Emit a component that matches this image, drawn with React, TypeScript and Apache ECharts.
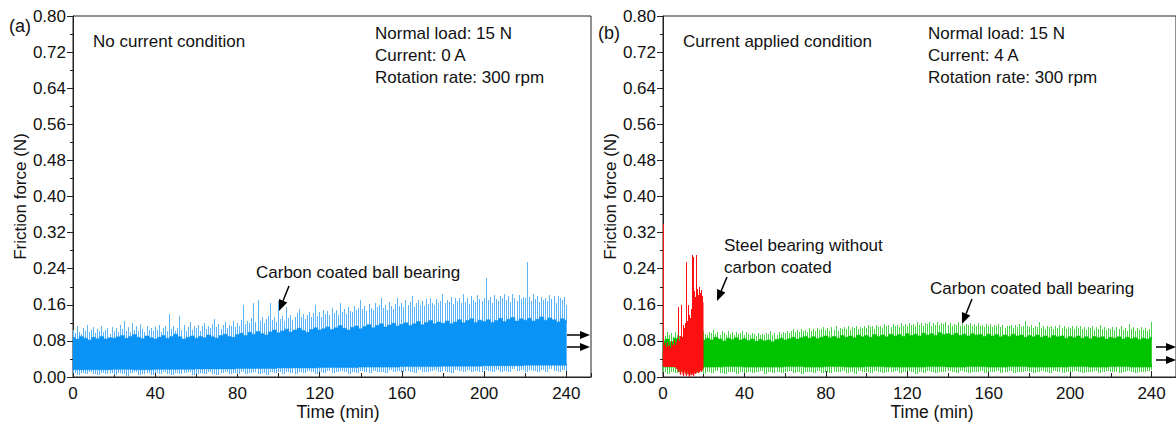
import React, { useEffect, useRef } from "react";
import * as echarts from "echarts";

// ---------- data (friction force in thousandths of N) ----------
const X_TICKS = [0, 40, 80, 120, 160, 200, 240];
const Y_TICK_STEP = 0.08;

// (a) carbon coated ball bearing, no current: dense core top, 2-min step (t = 0..240)
const BLUE_CORE_TOP = [
  88, 84, 90, 86, 82, 88, 85, 90, 84, 87, 86,
  89, 92, 86, 90, 94, 88, 85, 91, 87, 84,
  88, 92, 86, 90, 95, 89, 84, 88, 91, 86,
  90, 87, 93, 89, 86, 92, 95, 90, 88, 94,
  97, 92, 99, 95, 101, 96, 93, 100, 104, 98,
  102, 106, 100, 104, 108, 103, 99, 105, 109, 104,
  107, 111, 105, 109, 114, 108, 104, 110, 113, 107,
  112, 116, 109, 114, 118, 111, 115, 119, 113, 117,
  120, 114, 118, 123, 116, 121, 125, 118, 122, 119,
  124, 118, 122, 127, 120, 125, 129, 121, 126, 123,
  127, 121, 125, 130, 123, 128, 132, 124, 129, 126,
  130, 124, 128, 133, 126, 131, 127, 122, 129, 125,
];
// dense core bottom, 10-min step
const BLUE_CORE_LOW = [16, 16, 17, 16, 17, 17, 18, 18, 19, 19, 20, 20, 21, 21, 22, 22, 23, 23, 24, 24, 25, 25, 26, 26, 26];
// spike maxima, 1-min step
const BLUE_PEAK = [
  105, 98, 112, 100, 95, 108, 102, 115, 99, 104,
  110, 97, 106, 101, 113, 99, 104, 108, 96, 111,
  103, 109, 100, 115, 106, 125, 102, 110, 99, 120,
  104, 112, 101, 118, 107, 99, 113, 105, 109, 102,
  111, 104, 116, 100, 108, 113, 103, 140, 106, 112,
  101, 109, 135, 104, 115, 102, 110, 121, 105, 113,
  108, 116, 103, 112, 119, 106, 114, 109, 117, 128,
  111, 118, 106, 115, 121, 109, 116, 112, 124, 110,
  119, 113, 126, 160, 117, 125, 120, 131, 165, 122,
  170, 124, 132, 119, 128, 135, 165, 126, 133, 121,
  168, 129, 136, 124, 155, 131, 138, 127, 134, 142,
  150, 132, 140, 128, 137, 145, 133, 141, 160, 136,
  143, 134, 148, 139, 146, 137, 152, 141, 149, 138,
  165, 144, 151, 140, 156, 147, 143, 158, 149, 154,
  170, 150, 157, 146, 161, 152, 148, 163, 155, 159,
  175, 153, 160, 149, 166, 157, 151, 162, 175, 158,
  164, 155, 170, 159, 167, 180, 156, 163, 171, 160,
  168, 158, 173, 162, 176, 165, 160, 172, 164, 169,
  185, 163, 171, 166, 178, 161, 174, 168, 176, 165,
  185, 167, 175, 162, 179, 170, 166, 181, 172, 168,
  176, 220, 171, 178, 165, 182, 173, 169, 180, 174,
  185, 170, 179, 166, 183, 175, 168, 181, 172, 178,
  174, 255, 177, 169, 185, 173, 180, 167, 178, 171,
  176, 168, 182, 172, 179, 165, 180, 174, 170, 177,
  160,
];
// spike minima, 2-min step
const BLUE_DIP = [
  8, 5, 9, 6, 10, 7, 4, 9, 6, 8, 5,
  9, 6, 3, 8, 10, 5, 7, 9, 4, 8,
  6, 10, 7, 4, 9, 6, 8, 11, 5, 7,
  9, 6, 10, 7, 4, 8, 11, 6, 9, 7,
  10, 6, 8, 12, 7, 9, 5, 11, 8, 10,
  7, 12, 9, 6, 11, 8, 13, 10, 7, 12,
  9, 13, 8, 11, 14, 10, 7, 12, 9, 13,
  11, 8, 14, 10, 12, 9, 15, 11, 13, 10,
  14, 11, 9, 15, 12, 10, 13, 16, 11, 14,
  12, 9, 15, 13, 10, 16, 12, 14, 11, 15,
  13, 10, 16, 12, 14, 11, 17, 13, 15, 12,
  16, 13, 11, 15, 12, 17, 14, 12, 16, 13,
];

// (b) carbon coated ball bearing, current applied (green)
const GREEN_CORE_TOP = [
  80, 84, 78, 86, 82, 88, 83, 87, 80, 85, 82,
  86, 82, 88, 84, 80, 86, 83, 87, 82, 85,
  81, 84, 79, 83, 80, 82, 78, 83, 86, 82,
  85, 88, 84, 87, 90, 86, 89, 85, 88, 91,
  87, 90, 86, 92, 88, 91, 87, 93, 89, 92,
  88, 94, 90, 93, 89, 95, 91, 94, 90, 96,
  92, 95, 91, 97, 93, 96, 92, 98, 94, 96,
  93, 97, 92, 95, 91, 96, 93, 94, 90, 95,
  91, 94, 89, 93, 90, 95, 91, 93, 88, 92,
  89, 93, 88, 91, 87, 92, 89, 91, 86, 90,
  87, 91, 86, 89, 85, 90, 87, 89, 84, 88,
  86, 89, 84, 88, 85, 87, 83, 86, 84, 88,
];
const GREEN_CORE_LOW = [22, 21, 22, 23, 22, 22, 23, 22, 23, 22, 23, 22, 22, 23, 22, 23, 22, 23, 22, 22, 23, 22, 23, 22, 22];
const GREEN_PEAK = [
  95, 90, 99, 92, 97, 89, 100, 94, 91, 98,
  93, 99, 90, 96, 101, 92, 97, 94, 100, 95,
  102, 96, 93, 100, 97, 104, 95, 99, 92, 101,
  97, 94, 103, 96, 99, 93, 100, 95, 98, 102,
  94, 99, 96, 92, 98, 95, 91, 97, 93, 96,
  92, 98, 95, 101, 94, 97, 93, 100, 96, 99,
  98, 103, 97, 101, 106, 99, 104, 100, 107, 102,
  105, 100, 108, 103, 106, 101, 109, 104, 107, 110,
  104, 108, 102, 110, 105, 112, 103, 109, 106, 111,
  107, 113, 105, 110, 108, 114, 106, 111, 109, 112,
  108, 115, 110, 113, 107, 116, 111, 114, 109, 117,
  112, 115, 110, 118, 113, 116, 111, 119, 114, 117,
  113, 120, 115, 118, 112, 121, 116, 119, 114, 120,
  117, 121, 114, 119, 116, 122, 115, 120, 118, 121,
  116, 120, 113, 118, 115, 121, 114, 119, 112, 117,
  115, 119, 112, 117, 114, 120, 113, 116, 111, 118,
  113, 117, 110, 115, 112, 118, 111, 116, 109, 114,
  112, 116, 109, 115, 111, 117, 110, 114, 123, 112,
  111, 115, 108, 114, 110, 121, 109, 113, 107, 112,
  110, 114, 107, 113, 109, 115, 108, 112, 106, 111,
  109, 113, 106, 112, 108, 114, 107, 111, 105, 110,
  108, 112, 105, 111, 107, 116, 106, 110, 104, 109,
  107, 111, 104, 110, 106, 112, 105, 109, 103, 118,
  106, 110, 103, 109, 105, 111, 104, 108, 102, 107,
  122,
];
const GREEN_DIP = [
  10, 7, 12, 8, 11, 9, 6, 12, 8, 10, 7,
  11, 8, 13, 9, 6, 12, 10, 7, 11, 9,
  12, 8, 10, 13, 7, 11, 9, 12, 8, 10,
  13, 9, 11, 7, 12, 10, 8, 13, 9, 11,
  8, 12, 10, 14, 9, 11, 7, 13, 10, 12,
  9, 13, 11, 8, 12, 10, 14, 9, 11, 13,
  10, 7, 12, 9, 13, 11, 8, 12, 10, 14,
  11, 9, 13, 10, 8, 12, 11, 14, 9, 12,
  10, 13, 8, 11, 14, 9, 12, 10, 13, 11,
  9, 12, 14, 10, 8, 13, 11, 9, 12, 10,
  13, 11, 8, 12, 10, 14, 9, 11, 13, 10,
  12, 9, 11, 14, 10, 8, 12, 11, 13, 15,
];

// (b) steel bearing without carbon coating (red), 0.5-min step, t = 0..19.5
const RED_CORE_TOP = [
  58, 55, 60, 56, 59, 57, 61, 56, 58, 60,
  57, 61, 58, 62, 60, 64, 61, 63, 62, 66,
  70, 66, 75, 80, 72, 85, 90, 95, 110, 120,
  130, 140, 135, 145, 150, 140, 160, 150, 155, 165,
];
const RED_CORE_LOW = [24, 23, 21, 19]; // 5-min step
const RED_PEAK = [
  340, 70, 75, 66, 78, 68, 72, 65, 80, 70,
  74, 82, 70, 78, 85, 155, 80, 90, 160, 88,
  115, 108, 120, 255, 125, 160, 138, 130, 150, 270,
  265, 190, 178, 270, 195, 182, 200, 186, 192, 180,
];
const RED_DIP = [
  24, 25, 23, 24, 26, 23, 25, 22, 24, 23,
  25, 22, 24, 18, 23, 10, 22, 5, 20, 14,
  3, 16, 12, 2, 15, 8, 0, 12, 4, 10,
  2, 14, 6, 11, 15, 8, 13, 16, 12, 18,
];

// ---------- helpers ----------
const FONT = "'Liberation Sans', Arial, Helvetica, sans-serif";
const TXT = "#111";
const AX = "#222";

type CoreRow = [number, number, number];
type SpikeRow = [number, number, number, number, number];

function pick(arr: number[], t: number, step: number): number {
  const i = Math.min(Math.max(Math.round(t / step), 0), arr.length - 1);
  return arr[i];
}
function pickBin(arr: number[], t: number, step: number): number {
  const i = Math.min(Math.floor(t / step + 1e-9), arr.length - 1);
  return arr[i];
}

function coreRows(top: number[], low: number[], step: number, lowStep: number): CoreRow[] {
  return top.map((v, i) => {
    const t = i * step;
    return [t, pickBin(low, t, lowStep) / 1000, v / 1000];
  });
}
// [t, dip, coreLow, coreTop, peak]
function spikeRows(
  peak: number[], dip: number[], step: number, dipStep: number,
  top: number[], topStep: number, low: number[], lowStep: number
): SpikeRow[] {
  return peak.map((v, i) => {
    const t = i * step;
    return [
      t,
      pickBin(dip, t, dipStep) / 1000,
      pickBin(low, t, lowStep) / 1000,
      pick(top, t, topStep) / 1000,
      v / 1000,
    ];
  });
}

// dense core drawn as one stepped polygon through the axis scales
function coreSeries(name: string, xi: number, yi: number, rows: CoreRow[], step: number, end: number, color: string, z: number) {
  return {
    name,
    type: "custom",
    xAxisIndex: xi,
    yAxisIndex: yi,
    z,
    silent: true,
    encode: { x: 0, y: [1, 2] },
    data: rows,
    renderItem: (params: any, api: any) => {
      if (params.dataIndex !== 0) return null;
      const topPts: number[][] = [];
      const lowPts: number[][] = [];
      rows.forEach(([t, lo, hi]) => {
        const x0 = Math.max(0, t - step / 2);
        const x1 = Math.min(end, t + step / 2);
        topPts.push(api.coord([x0, hi]), api.coord([x1, hi]));
        lowPts.push(api.coord([x0, lo]), api.coord([x1, lo]));
      });
      return {
        type: "polygon",
        shape: { points: topPts.concat(lowPts.reverse()) },
        style: { fill: color, stroke: color, lineWidth: 0.5 },
      };
    },
  };
}

// thin spikes as zig-zag polylines: core top -> peak, and core low -> dip (pixel-snapped)
function spikeSeries(name: string, xi: number, yi: number, rows: SpikeRow[], color: string, z: number, through = false) {
  return {
    name,
    type: "custom",
    xAxisIndex: xi,
    yAxisIndex: yi,
    z,
    silent: true,
    encode: { x: 0, y: [1, 4] },
    data: rows,
    renderItem: (params: any, api: any) => {
      if (params.dataIndex !== 0) return null;
      const up: number[][] = [];
      const down: number[][] = [];
      const snap = (p: number[]) => [Math.floor(p[0]) + 0.5, Math.round(p[1])];
      rows.forEach(([t, dip, lo, top, peak]) => {
        if (through) {
          const a = snap(api.coord([t, dip]));
          const b = snap(api.coord([t, peak]));
          up.push(a, b, a);
        } else {
          const a = snap(api.coord([t, top - 0.006]));
          const b = snap(api.coord([t, Math.max(peak, top)]));
          up.push(a, b, a);
          const c = snap(api.coord([t, lo + 0.006]));
          const d = snap(api.coord([t, Math.min(dip, lo)]));
          down.push(c, d, c);
        }
      });
      const children: any[] = [
        { type: "polyline", shape: { points: up }, style: { stroke: color, lineWidth: 1, fill: null } },
      ];
      if (down.length) {
        children.push({ type: "polyline", shape: { points: down }, style: { stroke: color, lineWidth: 1, fill: null } });
      }
      return { type: "group", children };
    },
  };
}

function arrow(x1: number, y1: number, x2: number, y2: number, len = 11, half = 4.5): any[] {
  const ang = Math.atan2(y2 - y1, x2 - x1);
  const bx = x2 - len * Math.cos(ang);
  const by = y2 - len * Math.sin(ang);
  const px = -Math.sin(ang) * half;
  const py = Math.cos(ang) * half;
  return [
    { type: "line", silent: true, shape: { x1, y1, x2: bx, y2: by }, style: { stroke: "#000", lineWidth: 1.5 } },
    {
      type: "polygon",
      silent: true,
      shape: { points: [[x2, y2], [bx + px, by + py], [bx - px, by - py]] },
      style: { fill: "#000" },
    },
  ];
}

function label(text: string, x: number, y: number, size = 17, align = "left") {
  return {
    type: "text",
    silent: true,
    x,
    y,
    style: { text, fill: TXT, font: `${size}px ${FONT}`, textAlign: align, textVerticalAlign: "middle" },
  };
}

const X_MAX = 252;

function xMain(grid: number) {
  return {
    type: "value",
    gridIndex: grid,
    min: 0,
    max: X_MAX,
    interval: 40,
    axisLine: { show: true, onZero: false, lineStyle: { color: AX, width: 1 } },
    axisTick: { show: true, inside: true, length: 6, lineStyle: { color: AX, width: 1 } },
    axisLabel: {
      show: true,
      margin: 8,
      color: TXT,
      fontSize: 17,
      fontFamily: FONT,
      showMaxLabel: false,
      formatter: (v: number) => (X_TICKS.indexOf(v) >= 0 ? String(v) : ""),
    },
    splitLine: { show: false },
  };
}
function xMinor(grid: number) {
  return {
    type: "value",
    gridIndex: grid,
    position: "bottom",
    min: 0,
    max: X_MAX,
    interval: 20,
    axisLine: { show: false },
    axisTick: { show: true, inside: true, length: 4, lineStyle: { color: AX, width: 1 } },
    axisLabel: { show: false },
    splitLine: { show: false },
  };
}
function yMain(grid: number) {
  return {
    type: "value",
    gridIndex: grid,
    min: 0,
    max: 0.8,
    interval: Y_TICK_STEP,
    name: "Friction force (N)",
    nameLocation: "middle",
    nameGap: 44,
    nameTextStyle: { color: TXT, fontSize: 17, fontFamily: FONT },
    axisLine: { show: true, lineStyle: { color: AX, width: 1 } },
    axisTick: { show: true, inside: false, length: 6, lineStyle: { color: AX, width: 1 } },
    minorTick: { show: true, splitNumber: 2, length: 3, lineStyle: { color: AX, width: 1 } },
    axisLabel: {
      margin: 7,
      color: TXT,
      fontSize: 17,
      fontFamily: FONT,
      formatter: (v: number) => v.toFixed(2),
    },
    splitLine: { show: false },
    minorSplitLine: { show: false },
  };
}

export default function App() {
  const ref = useRef<HTMLDivElement>(null);

  useEffect(() => {
    document.body.style.margin = "0";
    if (!ref.current) return;
    const chart = echarts.init(ref.current, undefined, { renderer: "svg" });

    const blueCore = coreRows(BLUE_CORE_TOP, BLUE_CORE_LOW, 2, 10);
    const blueSpk = spikeRows(BLUE_PEAK, BLUE_DIP, 1, 2, BLUE_CORE_TOP, 2, BLUE_CORE_LOW, 10);
    const greenCore = coreRows(GREEN_CORE_TOP, GREEN_CORE_LOW, 2, 10);
    const greenSpk = spikeRows(GREEN_PEAK, GREEN_DIP, 1, 2, GREEN_CORE_TOP, 2, GREEN_CORE_LOW, 10);
    const redCore = coreRows(RED_CORE_TOP, RED_CORE_LOW, 0.5, 5);
    const redSpk = spikeRows(RED_PEAK, RED_DIP, 0.5, 0.5, RED_CORE_TOP, 0.5, RED_CORE_LOW, 5);

    const graphics: any[] = [
      label("(a)", 9, 26, 18),
      label("(b)", 598, 33, 18),
      label("No current condition", 93, 41),
      label("Current applied condition", 683, 41),
      label("Normal load: 15 N", 375, 33),
      label("Current: 0 A", 375, 55),
      label("Rotation rate: 300 rpm", 375, 77),
      label("Normal load: 15 N", 928, 33),
      label("Current: 4 A", 928, 55),
      label("Rotation rate: 300 rpm", 928, 77),
      label("Carbon coated ball bearing", 256, 272),
      label("Steel bearing without", 724, 245),
      label("carbon coated", 724, 267),
      label("Carbon coated ball bearing", 930, 288),
      label("Time (min)", 338, 412, 17.5, "center"),
      label("Time (min)", 932, 412, 17.5, "center"),
      ...arrow(289, 286, 279, 311),
      ...arrow(727, 277, 717, 301),
      ...arrow(972, 299, 962, 324),
      ...arrow(567, 335, 590, 335, 10, 4),
      ...arrow(567, 347, 590, 347, 10, 4),
      ...arrow(1156, 347, 1176, 347, 10, 4),
      ...arrow(1156, 360, 1176, 360, 10, 4),
    ];

    chart.setOption({
      animation: false,
      backgroundColor: "#fff",
      textStyle: { fontFamily: FONT },
      grid: [
        { left: 73, top: 16, width: 518, height: 361, show: true, borderColor: AX, borderWidth: 1, backgroundColor: "transparent" },
        { left: 663, top: 16, width: 517, height: 361, show: true, borderColor: AX, borderWidth: 1, backgroundColor: "transparent" },
      ],
      xAxis: [xMain(0), xMinor(0), xMain(1), xMinor(1)],
      yAxis: [yMain(0), yMain(1)],
      series: [
        spikeSeries("Carbon coated (0 A) spikes", 0, 0, blueSpk, "#5cb3f6", 2),
        coreSeries("Carbon coated ball bearing (0 A)", 0, 0, blueCore, 2, 240, "#0a93f7", 3),
        spikeSeries("Carbon coated (4 A) spikes", 2, 1, greenSpk, "#48d448", 2),
        coreSeries("Carbon coated ball bearing (4 A)", 2, 1, greenCore, 2, 240, "#00c400", 3),
        coreSeries("Steel bearing without carbon coated", 2, 1, redCore, 0.5, 19.75, "#ff0000", 4),
        spikeSeries("Steel bearing spikes", 2, 1, redSpk, "#ff1010", 5, true),
      ],
      graphic: graphics,
    });

    return () => chart.dispose();
  }, []);

  return <div ref={ref} style={{ width: 1176, height: 425 }} />;
}
